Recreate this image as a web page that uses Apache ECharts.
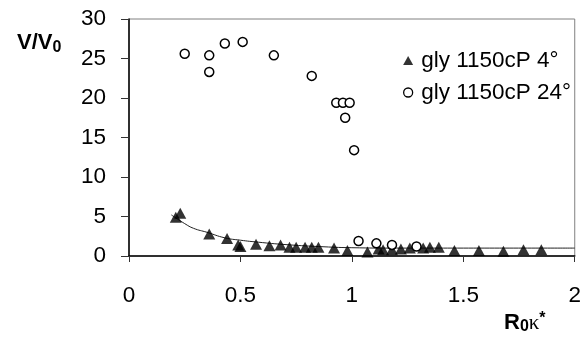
<!DOCTYPE html>
<html>
<head>
<meta charset="utf-8">
<script src="https://cdn.jsdelivr.net/npm/echarts@6/dist/echarts.min.js"></script>
<style>html,body{margin:0;padding:0;background:#fff}#c{width:584px;height:344px}</style>
</head>
<body>
<div id="c"></div>
<script>
var seriesNames = ['gly 1150cP 4°', 'gly 1150cP 24°'];
var gly4 = [[0.21,4.9],[0.23,5.4],[0.36,2.8],[0.44,2.2],[0.49,1.4],[0.50,1.2],[0.57,1.5],[0.63,1.3],[0.68,1.4],[0.72,1.1],[0.75,1.1],[0.79,1.1],[0.82,1.1],[0.85,1.1],[0.92,1.0],[0.98,0.7],[1.07,0.5],[1.12,0.9],[1.14,0.8],[1.18,0.8],[1.22,0.9],[1.26,1.0],[1.32,1.0],[1.35,1.1],[1.39,1.1],[1.46,0.7],[1.57,0.7],[1.68,0.6],[1.77,0.8],[1.85,0.8]];
var gly24 = [[0.25,25.6],[0.36,25.4],[0.36,23.3],[0.43,26.9],[0.51,27.1],[0.65,25.4],[0.82,22.8],[0.93,19.4],[0.96,19.4],[0.99,19.4],[0.97,17.5],[1.01,13.4],[1.03,1.9],[1.11,1.6],[1.18,1.4],[1.29,1.2]];
var fitCurve = [[0.19,5.2],[0.25,4.1],[0.29,3.5],[0.35,3.0],[0.43,2.3],[0.5,2.0],[0.58,1.75],[0.7,1.45],[0.85,1.2],[1.0,1.05],[1.2,1.0],[1.5,1.0],[2.0,1.0]];
var xTicks = [0, 0.5, 1, 1.5, 2];
var yTicks = [0, 5, 10, 15, 20, 25, 30];

var FONT = 'Liberation Sans';
var chart = echarts.init(document.getElementById('c'), null, {renderer: 'canvas'});
chart.setOption({
  animation: false,
  textStyle: {fontFamily: FONT},
  grid: {left: 129, right: 7, top: 19, bottom: 88, show: true, borderColor: '#808080', borderWidth: 1},
  xAxis: {
    type: 'value', min: xTicks[0], max: xTicks[xTicks.length - 1], interval: 0.5,
    splitLine: {show: false},
    axisLine: {onZero: false, lineStyle: {color: '#000', width: 1.5}},
    axisTick: {show: true, length: 6, lineStyle: {color: '#333'}},
    axisLabel: {margin: 28, fontSize: 22.5, color: '#000', fontFamily: FONT}
  },
  yAxis: {
    type: 'value', min: yTicks[0], max: yTicks[yTicks.length - 1], interval: 5,
    splitLine: {show: false},
    axisLine: {onZero: false, lineStyle: {color: '#000', width: 1.5}},
    axisTick: {show: true, length: 8, lineStyle: {color: '#333'}},
    axisLabel: {margin: 23, fontSize: 22.5, color: '#000', fontFamily: FONT}
  },
  legend: {
    orient: 'vertical', left: 398, top: 44, itemGap: 9,
    itemWidth: 10, itemHeight: 9,
    textStyle: {fontSize: 22.5, color: '#000', fontFamily: FONT, padding: [0, 0, 0, 3]},
    data: [
      {name: seriesNames[0], icon: 'triangle'},
      {name: seriesNames[1], icon: 'circle', itemStyle: {color: '#fff', borderColor: '#000', borderWidth: 1.3}}
    ]
  },
  graphic: [
    {type: 'text', left: 17, top: 32, style: {
      text: '{a|V/V}{s|0}', rich: {
        a: {fontSize: 22, fontWeight: 'bold', fontFamily: FONT, fill: '#000'},
        s: {fontSize: 16, fontWeight: 'bold', fontFamily: FONT, fill: '#000', padding: [9, 0, 0, 0]}
      }}},
    {type: 'text', left: 504, top: 311, style: {
      text: '{a|R}{s|0}{k|κ}{t|*}', rich: {
        a: {fontSize: 22, fontWeight: 'bold', fontFamily: FONT, fill: '#000'},
        s: {fontSize: 16, fontWeight: 'bold', fontFamily: FONT, fill: '#000', padding: [8, 0, 0, 0]},
        k: {fontSize: 21, fontFamily: 'Liberation Serif', fill: '#000'},
        t: {fontSize: 16, fontWeight: 'bold', fontFamily: FONT, fill: '#000', padding: [0, 0, 8, 0]}
      }}}
  ],
  series: [
    {
      name: 'fit', type: 'line', data: fitCurve, smooth: true, showSymbol: false, symbol: 'none',
      lineStyle: {color: '#222', width: 1}, silent: true, z: 1
    },
    {
      name: seriesNames[0], type: 'scatter', data: gly4, symbol: 'triangle', symbolSize: [12, 11],
      itemStyle: {color: '#000'}, z: 3
    },
    {
      name: seriesNames[1], type: 'scatter', data: gly24, symbol: 'circle', symbolSize: 9,
      itemStyle: {color: '#fff', borderColor: '#000', borderWidth: 1.5, opacity: 1}, z: 4
    }
  ]
});
</script>
</body>
</html>
